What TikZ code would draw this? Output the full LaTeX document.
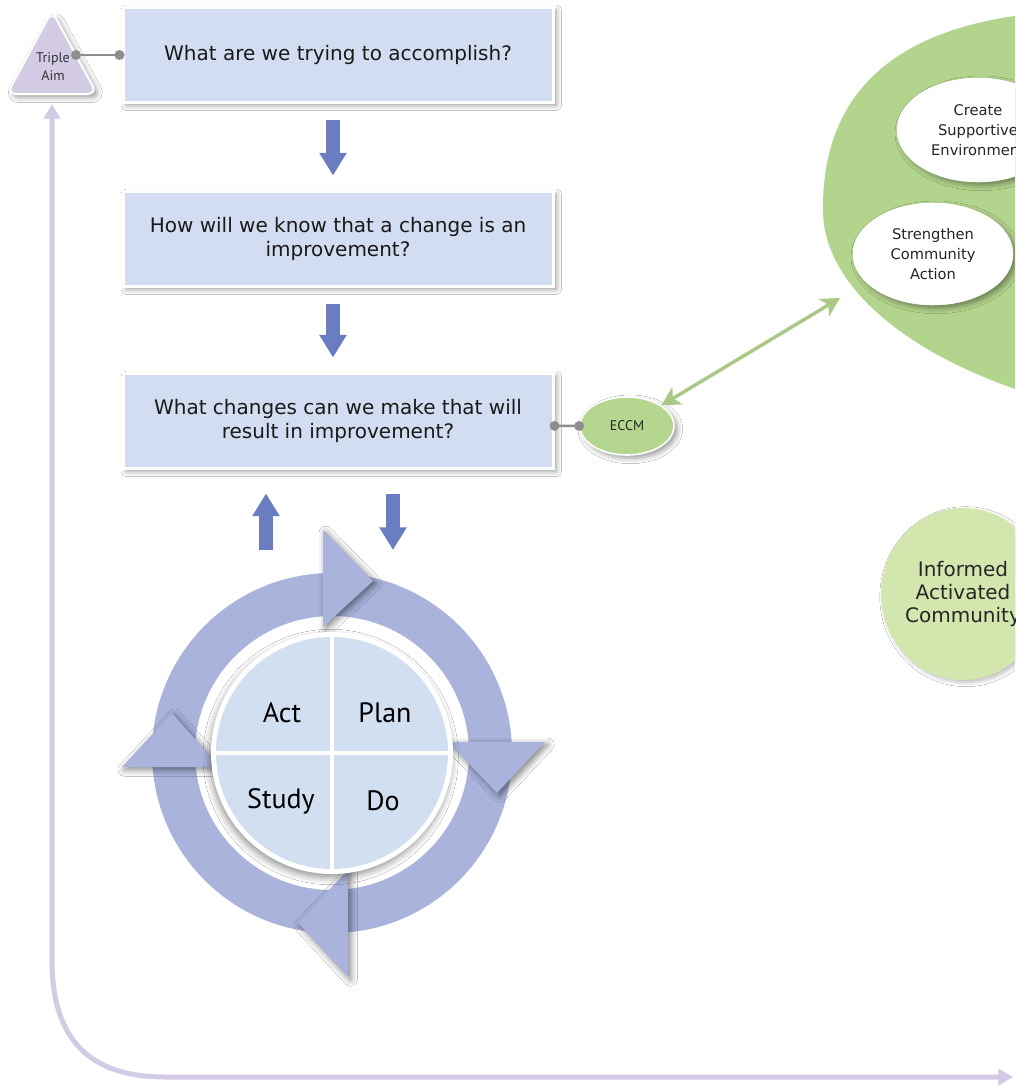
\documentclass[tikz,border=0pt]{standalone}
\usepackage{fontspec}
\setmainfont{DejaVu Sans}
\newfontfamily\ptfont{PT Sans}
\usetikzlibrary{arrows.meta,shadows.blur,shapes.geometric}
\definecolor{boxblue}{HTML}{D3DDF1}
\definecolor{arrowblue}{HTML}{6A7DC0}
\definecolor{ringblue}{HTML}{A9B3DC}
\definecolor{innerblue}{HTML}{D2DFF0}
\definecolor{lav}{HTML}{D4CCE5}
\definecolor{loopcol}{HTML}{D3CAE5}
\definecolor{blobgreen}{HTML}{B3D48C}
\definecolor{lightgreen}{HTML}{D3E6AE}
\definecolor{eccmgreen}{HTML}{B5D68E}
\definecolor{conngray}{HTML}{8E8E8E}
\begin{document}
\begin{tikzpicture}[x=0.75pt,y=-0.75pt,
  shad/.style={blur shadow={shadow xshift=2.5pt,shadow yshift=-2.5pt,shadow blur radius=4pt,shadow opacity=40}},
  qbox/.style={rectangle,fill=boxblue,draw=white,line width=2.25pt,shad,
    minimum width=322.5pt,minimum height=71.25pt,align=center,
    font=\fontsize{15}{18}\selectfont,text=black!90},
  blockarrow/.style={draw=arrowblue,line width=10pt,
    -{Triangle[length=17pt,width=19.5pt]}},
  conn/.style={draw=conngray,line width=1.9pt},
  dot/.style={fill=conngray},
  whiteell/.style={ellipse,fill=white,draw=white,shad,inner sep=0pt,align=center,
    font=\fontsize{11}{15}\selectfont,text=black!85},
  pdca/.style={font=\ptfont\fontsize{21}{24}\selectfont,text=black},
  ringhead/.style={fill=ringblue,blur shadow={shadow xshift=2pt,shadow yshift=-2pt,shadow blur radius=5pt,shadow opacity=50}}
]
\useasboundingbox (0,0) rectangle (1015,1086);
\fill[white] (0,0) rectangle (1015,1086);
\clip (0,0) rectangle (1015,1086);

% ---- question boxes ----
\node[qbox] (b1) at (338,54.5) {What are we trying to accomplish?};
\node[qbox] (b2) at (338,238.5) {How will we know that a change is an\\improvement?};
\node[qbox] (b3) at (338,420.5) {What changes can we make that will\\result in improvement?};

\draw[blockarrow] ([xshift=-3.75pt,yshift=-12pt]b1.south) -- ([xshift=-3.75pt,yshift=10.5pt]b2.north);
\draw[blockarrow] ([xshift=-3.75pt,yshift=-12pt]b2.south) -- ([xshift=-3.75pt,yshift=10.5pt]b3.north);

% ---- Triple Aim ----
\draw[fill=lav,draw=white,line width=1.5pt,rounded corners=7pt,shad]
  (52,11) -- (97,94) -- (7,94) -- cycle;
\node[font=\ptfont\fontsize{10.5}{13.5}\selectfont,align=center,text=black!80] (tri) at (53,67) {Triple\\Aim};
\coordinate (triR) at (76,55);
\draw[conn] (triR) -- ([xshift=-1.5pt]b1.west |- triR);
\fill[dot] (triR) circle (5);
\fill[dot] ([xshift=-1.5pt]b1.west |- triR) circle (5);

% ---- loop arrow ----
\coordinate (loopR) at (1013,1077);
\coordinate (loopT) at (52,104);
\draw[loopcol,line width=3.75pt,{Triangle[length=11pt,width=12pt]}-{Triangle[length=11pt,width=12pt]}]
  (loopT) -- (52,960) .. controls (52,1045) and (95,1077) .. (165,1077) -- (loopR);

% ---- green blob ----
\fill[blobgreen] (1030,14) .. controls (870,32) and (822,115) .. (823,210)
  .. controls (823,282) and (900,352) .. (1030,394) -- cycle;
\coordinate (blob) at (840,298);
\node[whiteell,minimum width=121.5pt,minimum height=78pt] (cse) at (978,130) {Create\\Supportive\\Environment};
\node[whiteell,minimum width=120pt,minimum height=76.5pt] (sca) at (933,254) {Strengthen\\Community\\Action};

\node[ellipse,fill=lightgreen,inner sep=0pt,minimum width=120pt,minimum height=129pt,
  align=center,font=\fontsize{15}{17}\selectfont,text=black!85,
  blur shadow={shadow xshift=2pt,shadow yshift=-2pt,shadow blur radius=3pt,shadow opacity=25}]
  (iac) at (963,594) {Informed\\Activated\\Community};

% ---- ECCM ----
\node[ellipse,fill=eccmgreen,draw=white,line width=1.2pt,shad,inner sep=0pt,
  minimum width=70.5pt,minimum height=43.5pt,font=\ptfont\fontsize{10.5}{12}\selectfont,text=black!85]
  (eccm) at (627,426) {ECCM};
\draw[conn] ([yshift=-4pt]b3.east) -- (eccm.west);
\fill[dot] ([yshift=-4pt]b3.east) circle (5);
\fill[dot] (eccm.west) circle (5);
\draw[draw=blobgreen!95!black,line width=2.6pt,
  {Stealth[length=14pt,width=15pt,inset=4pt]}-{Stealth[length=14pt,width=15pt,inset=4pt]}]
  (eccm) -- (blob);

% ---- arrows to/from the cycle ----
\coordinate (upS) at (266,550);
\coordinate (downE) at (393,550);
\draw[blockarrow] (upS) -- ([xshift=-54pt,yshift=-18pt]b3.south);
\draw[blockarrow] ([xshift=41.25pt,yshift=-18pt]b3.south) -- (downE);

% ---- PDCA cycle ----
\draw[ringblue,line width=32.25pt] (332,753) circle (158.5);
\fill[ringhead] (323,530) -- (373,581) -- (323,627) -- cycle;
\fill[ringhead] (448,742) -- (545,742) -- (497,793) -- cycle;
\fill[ringhead] (348,870) -- (298,923) -- (348,977) -- cycle;
\fill[ringhead] (122,767) -- (172,713) -- (220,767) -- cycle;
\fill[white,blur shadow={shadow xshift=-1pt,shadow yshift=-3pt,shadow blur radius=5pt,shadow opacity=40}] (332,753) circle (121);
\fill[innerblue] (332,753) circle (116);
\draw[white,line width=3pt] (332,632) -- (332,874);
\draw[white,line width=3pt] (211,753) -- (453,753);
\node[pdca] (act) at (282,713) {Act};
\node[pdca] (plan) at (385,713) {Plan};
\node[pdca] (study) at (281,801) {Study};
\node[pdca] (do) at (383,801) {Do};
\end{tikzpicture}
\end{document}
